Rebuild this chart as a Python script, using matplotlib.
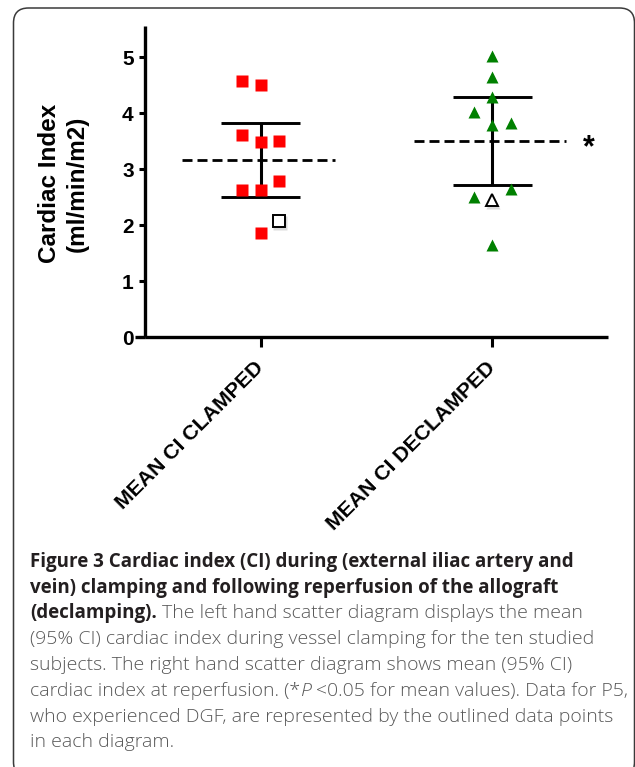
import matplotlib
matplotlib.use("Agg")
import matplotlib.pyplot as plt
import matplotlib.patches as mpatches
import matplotlib.transforms as mtransforms

# ---------------- data ----------------
categories = ["MEAN CI CLAMPED", "MEAN CI DECLAMPED"]
clamped_values = [4.58, 4.51, 3.61, 3.48, 3.50, 2.63, 2.63, 2.80, 1.87]
clamped_jitter = [-1, 0, -1, 0, 1, -1, 0, 1, 0]
clamped_p5 = 2.08
clamped_p5_jitter = 1
declamped_values = [5.02, 4.64, 4.30, 4.02, 3.79, 3.82, 2.50, 2.65, 1.65]
declamped_jitter = [0, 0, 0, -1, 0, 1, -1, 1, 0]
declamped_p5 = 2.46
declamped_p5_jitter = 0
means = [3.17, 3.51]
ci_low = [2.51, 2.72]
ci_high = [3.83, 4.30]
yticks = [0, 1, 2, 3, 4, 5]
ylabel_lines = ["Cardiac Index", "(ml/min/m2)"]

W, H, DPI = 635, 767, 100
fig = plt.figure(figsize=(W / DPI, H / DPI), dpi=DPI)

def fx(px):
    return px / W

def fy(py):
    return 1 - py / H

ax = fig.add_axes([fx(145), fy(337.3), fx(608) - fx(145), (337.3 - 26.5) / H])
ax.set_xlim(0.5, 2.5)
ax.set_ylim(0, 5.55)

spine_lw = 2.4
for s in ["top", "right"]:
    ax.spines[s].set_visible(False)
for s in ["left", "bottom"]:
    ax.spines[s].set_linewidth(spine_lw)
    ax.spines[s].set_capstyle("butt")

# extension of x-axis left of the y-axis (0 tick)
ax.plot([-0.022, 0], [0, 0], transform=ax.get_yaxis_transform(), color="black",
        lw=spine_lw, clip_on=False, solid_capstyle="butt")

jit = 0.08
xs = [1, 2]

# error bars (CI)
cap_half = 0.17
for x, lo, hi in zip(xs, ci_low, ci_high):
    ax.plot([x, x], [lo, hi], color="black", lw=2.2, zorder=2, solid_capstyle="butt")
    ax.plot([x - cap_half, x + cap_half], [lo, lo], color="black", lw=2.1, zorder=2,
            solid_capstyle="butt")
    ax.plot([x - cap_half, x + cap_half], [hi, hi], color="black", lw=2.1, zorder=2,
            solid_capstyle="butt")
# mean dashed lines
for x, m in zip(xs, means):
    ax.plot([x - 0.34, x + 0.32], [m, m], color="black", lw=2.0, zorder=2,
            dashes=(3.6, 1.8), dash_capstyle="butt")

# points
ax.plot([1 + j * jit for j in clamped_jitter], clamped_values, ls="none", marker="s",
        ms=8.6, mfc="#ff0000", mec="none", zorder=3)
ax.plot([2 + j * jit for j in declamped_jitter], declamped_values, ls="none", marker="^",
        ms=9.2, mfc="#008000", mec="none", zorder=3)

shadow = mtransforms.offset_copy(ax.transData, fig=fig, x=1.2, y=-2.0, units="dots")
for x, y, mk, ms in [(1 + clamped_p5_jitter * jit, clamped_p5, "s", 8.6),
                     (2 + declamped_p5_jitter * jit, declamped_p5, "^", 9.2)]:
    ax.plot([x], [y], ls="none", marker=mk, ms=ms + 1.5, mfc="#999999", mec="none",
            alpha=0.35, zorder=3, transform=shadow)
    ax.plot([x], [y], ls="none", marker=mk, ms=ms, mfc="white", mec="black", mew=1.4,
            zorder=4)

ax.text(2.415, 3.38, "*", ha="center", va="center", fontsize=22,
        family="Liberation Sans", fontweight="bold")

# ticks
ax.set_yticks(yticks)
ax.set_yticklabels([str(t) for t in yticks], family="Liberation Sans", fontweight="bold",
                   fontsize=15)
ax.tick_params(axis="y", direction="out", length=4.3, width=2.2, pad=3.8)
ax.set_xticks(xs)
ax.set_xticklabels(categories, rotation=45, ha="right", va="center", rotation_mode="anchor",
                   family="Liberation Sans", fontweight="bold", fontsize=15.3)
ax.tick_params(axis="x", direction="out", length=7.5, width=2.2, pad=12)

# y label (two lines)
fig.text(fx(49.5), fy(183), ylabel_lines[0], rotation=90, ha="center", va="center",
         family="Liberation Sans", fontweight="bold", fontsize=17.5)
fig.text(fx(77.5), fy(184), ylabel_lines[1], rotation=90, ha="center", va="center",
         family="Liberation Sans", fontweight="bold", fontsize=17.5)

# border box
box = mpatches.FancyBboxPatch((13.5, -10), 621, 759 + 10,
                              boxstyle="round,pad=0,rounding_size=15",
                              transform=mtransforms.IdentityTransform(),
                              fill=False, ec="#3a3a3a", lw=1.1)
fig.add_artist(box)

# caption
cap_font = "Open Sans"
bold_size = 13.5
light_size = 14.0
dark = "#231f20"
grey = "#585858"
caption = [
    [("Figure 3 Cardiac index (CI) during (external iliac artery and", "bold", "normal", dark)],
    [("vein) clamping and following reperfusion of the allograft", "bold", "normal", dark)],
    [("(declamping).", "bold", "normal", dark),
     (" The left hand scatter diagram displays the mean", "light", "normal", grey)],
    [("(95% CI) cardiac index during vessel clamping for the ten studied", "light", "normal", grey)],
    [("subjects. The right hand scatter diagram shows mean (95% CI)", "light", "normal", grey)],
    [("cardiac index at reperfusion. (*", "light", "normal", grey),
     ("P", "light", "italic", grey),
     (" <0.05 for mean values). Data for P5,", "light", "normal", grey)],
    [("who experienced DGF, are represented by the outlined data points", "light", "normal", grey)],
    [("in each diagram.", "light", "normal", grey)],
]
renderer = fig.canvas.get_renderer()

def size_for(weight):
    return bold_size if weight == "bold" else light_size

def measure(s, weight, style):
    t = fig.text(0, 0, s, family=cap_font, fontsize=size_for(weight), fontweight=weight,
                 fontstyle=style)
    w = t.get_window_extent(renderer).width
    t.remove()
    return w

space_w = measure("a a", "light", "normal") - measure("aa", "light", "normal")
x0 = 30
base0 = 566.7
step = 25.8
for i, pieces in enumerate(caption):
    x = x0
    yb = base0 + i * step
    for s, weight, style, col in pieces:
        lead = len(s) - len(s.lstrip(" "))
        x += lead * space_w
        s2 = s.lstrip(" ")
        t = fig.text(fx(x), fy(yb), s2, family=cap_font, fontsize=size_for(weight),
                     fontweight=weight, fontstyle=style, color=col, ha="left",
                     va="baseline")
        x += t.get_window_extent(renderer).width

fig.savefig("out.png", dpi=DPI)
